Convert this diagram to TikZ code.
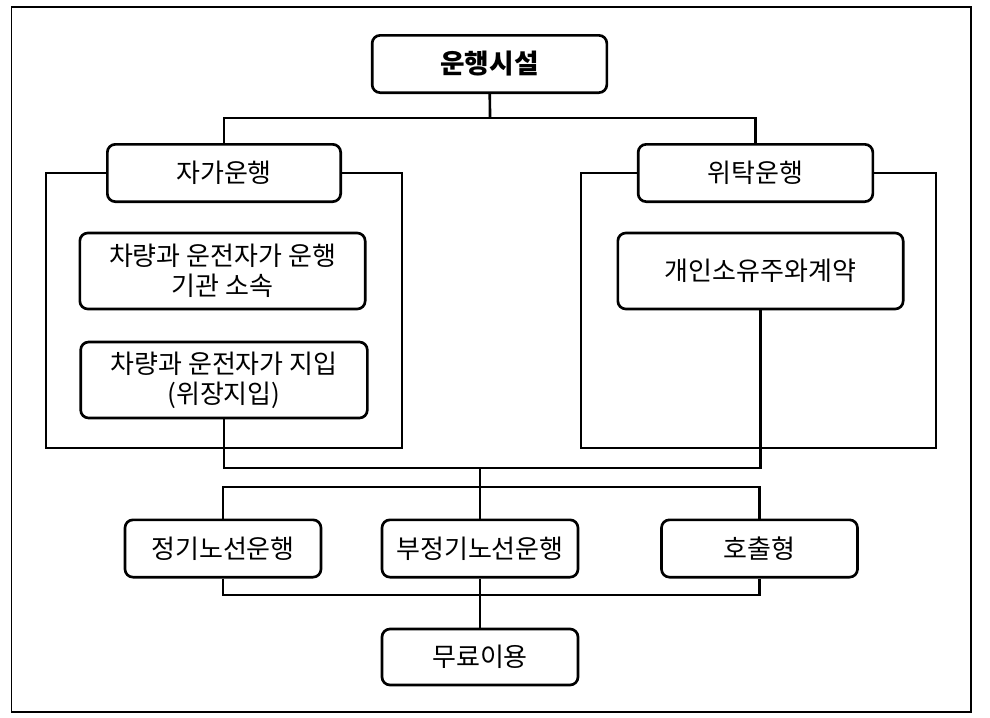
\documentclass[tikz,border=0pt]{standalone}
\usepackage{fontspec}
\setmainfont{Noto Sans CJK KR}
\usepackage{tikz}

\tikzset{
  box/.style={draw, fill=white, rounded corners=6pt, line width=2pt,
    align=center, inner sep=0pt, font=\fontsize{19.5}{22.5}\selectfont},
  conn/.style={line width=2pt},
  frame/.style={line width=2pt}
}

\begin{document}
\begin{tikzpicture}[x=0.75pt, y=-0.75pt]
		\useasboundingbox (0,0) rectangle (990,718);
		\draw[line width=0.8pt] (11.5,7) rectangle (971,712);
%		enclosures behind the two branches
		\draw[frame] (46,173) rectangle (402,448);
		\draw[frame] (581,173) rectangle (936,448);
		\node[box, minimum width=176pt, minimum height=43pt,
			font=\fontsize{20}{24}\selectfont\bfseries] (top) at (489.5,64){운행시설};
		\node[box, minimum width=175pt, minimum height=43pt] (jaga) at (224,173){자가운행};
		\node[box, minimum width=176pt, minimum height=43pt] (witak) at (755.5,173){위탁운행};
		\node[box, minimum width=214pt, minimum height=57pt] (sosok) at (222.5,271){차량과 운전자가 운행\\기관 소속};
		\node[box, minimum width=215pt, minimum height=57pt] (jiip) at (224,380){차량과 운전자가 지입\\(위장지입)};
		\node[box, minimum width=214pt, minimum height=57pt] (gyeyak) at (760.5,271){개인소유주와계약};
		\node[box, minimum width=147pt, minimum height=43pt] (jeonggi) at (223,548.5){정기노선운행};
		\node[box, minimum width=147pt, minimum height=43pt] (bujeong) at (480,548.5){부정기노선운행};
		\node[box, minimum width=147pt, minimum height=43pt] (hochul) at (759.5,548.5){호출형};
		\node[box, minimum width=147pt, minimum height=42pt] (muryo) at (480,657){무료이용};
		\coordinate (split1) at (490,118);
		\coordinate (merge) at (480,468);
		\coordinate (split2) at (480,487);
		\coordinate (join) at (480,595);
		\draw[conn] (top) -- (split1);
		\draw[conn] (jaga.north) |- (split1) -| (witak.north);
		\draw[conn] (jiip.south) |- (merge) -| (gyeyak.south);
		\draw[conn] (merge) -- (split2);
		\draw[conn] (jeonggi.north) |- (split2) -| (hochul.north);
		\draw[conn] (split2) -- (bujeong.north);
		\draw[conn] (jeonggi.south) |- (join) -| (hochul.south);
		\draw[conn] (bujeong.south) -- (muryo.north);
	\end{tikzpicture}
\end{document}
